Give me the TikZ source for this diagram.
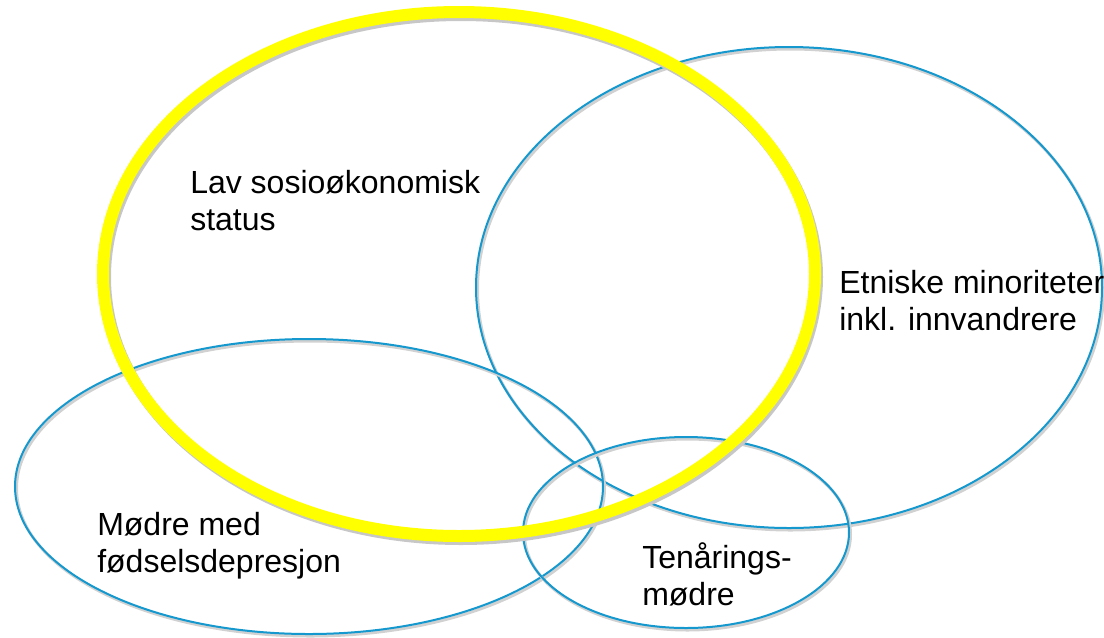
\documentclass[tikz,border=0pt]{standalone}
\usepackage{fontspec}
\setmainfont{Liberation Sans}
\usetikzlibrary{shapes.geometric}
\definecolor{venblue}{RGB}{20,152,206}
\definecolor{venyellow}{RGB}{255,255,0}
\newcommand{\px}{0.75pt}

\tikzset{
  group/.style={ellipse, inner sep=0pt, draw=venblue, line width=2*\px,
    preaction={draw=black!18, line width=3*\px,
      transform canvas={shift={(1.5*\px,-2*\px)}}}},
  lowgroup/.style={group, draw=venyellow, line width=12*\px,
    preaction={draw=black!22, line width=12*\px,
      transform canvas={shift={(2*\px,-3*\px)}}}},
  label/.style={anchor=base west, align=left, inner sep=0pt,
    font=\fontsize{24}{27.75}\selectfont}
}

\begin{document}
\begin{tikzpicture}[x=\px, y=-\px]

\useasboundingbox (0,0) rectangle (1104,637);

% groups
\node[group, minimum width=626*\px, minimum height=481*\px] (ethnic) at (789,287.5) {};
\node[group, minimum width=588*\px, minimum height=295*\px] (depression) at (309,486.5) {};
\node[group, minimum width=326*\px, minimum height=191*\px] (teen) at (686,532.5) {};
\node[lowgroup, minimum width=712*\px, minimum height=524*\px] (ses) at (459,274) {};

% labels (base = last line)
\node[label] (ses_txt) at (190,230) {Lav sosioøkonomisk\\status};
\node[label] (ethnic_txt) at (839,330) {Etniske minoriteter\\inkl. innvandrere};
\node[label] (depression_txt) at (97,572) {Mødre med\\fødselsdepresjon};
\node[label] (teen_txt) at (642,605) {Tenårings-\\mødre};

\end{tikzpicture}
\end{document}
